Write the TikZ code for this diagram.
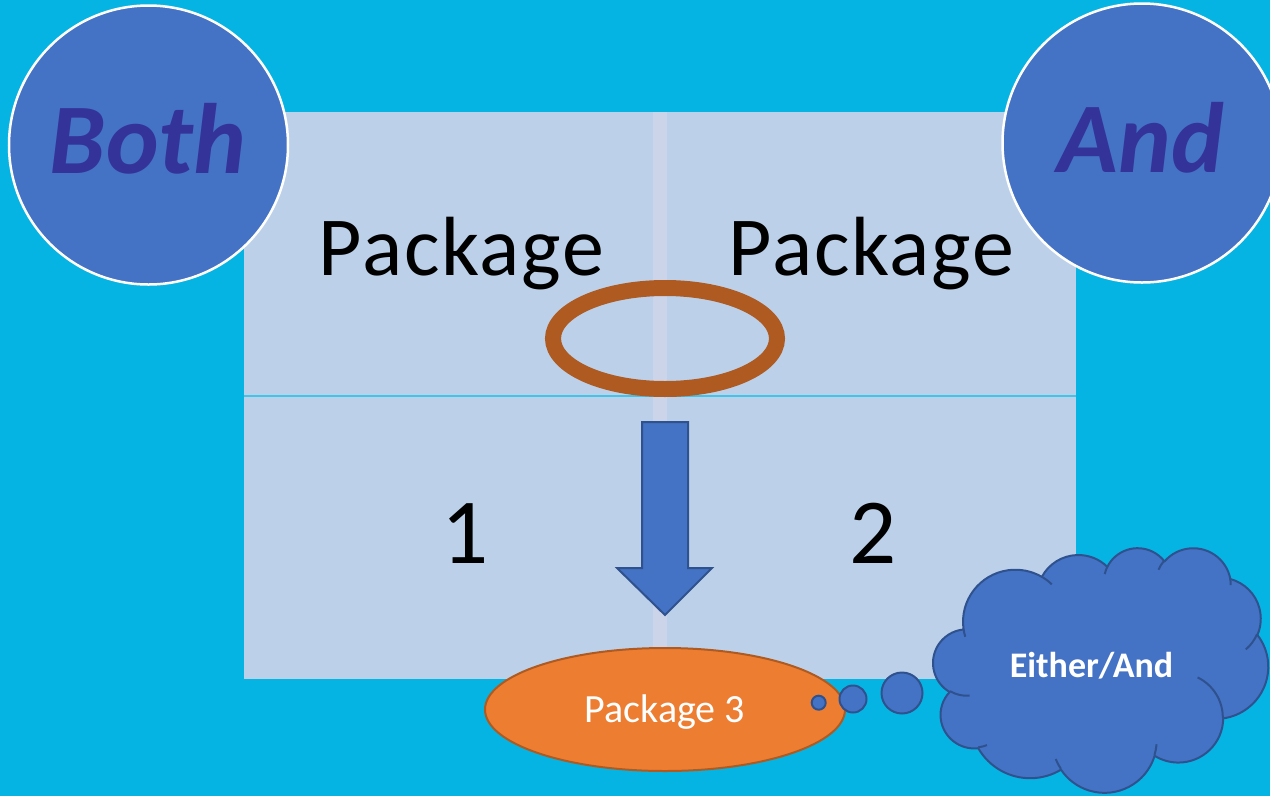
\documentclass[tikz,border=0pt]{standalone}
\usepackage{fontspec}
\setmainfont{Carlito}
\usetikzlibrary{shapes.geometric}

\definecolor{bgcyan}{RGB}{5,180,226}
\definecolor{panelblue}{RGB}{188,209,233}
\definecolor{stripe}{RGB}{204,212,234}
\definecolor{sepcyan}{RGB}{64,196,232}
\definecolor{accentblue}{RGB}{68,114,196}
\definecolor{edgeblue}{RGB}{47,82,143}
\definecolor{navy}{RGB}{51,51,153}
\definecolor{ringbrown}{RGB}{174,90,33}
\definecolor{pkgorange}{RGB}{237,125,49}

% scale of the cloud outline (path space 43200 x 43200)
\def\csx{0.007744}
\def\csy{0.005668}
% #1 name, #2 x radius, #3 y radius, #4 start angle, #5 sweep (visual angles, y down)
\newcommand\puffarc[5]{%
  \pgfmathsetmacro\pa{-atan2(#2*sin(#4),#3*cos(#4))}%
  \pgfmathsetmacro\pb{-atan2(#2*sin(#4+#5),#3*cos(#4+#5))}%
  \pgfmathsetmacro\pd{-mod(\pa-\pb+720,360)}%
  \pgfmathsetmacro\prx{#2*\csx}%
  \pgfmathsetmacro\pry{#3*\csy}%
  \expandafter\xdef\csname puff#1\endcsname{arc[x radius=\prx pt,y radius=\pry pt,start angle=\pa,delta angle=\pd]}%
}

\tikzset{
  badge/.style={circle,fill=accentblue,draw=white,line width=2.5pt,inner sep=0pt},
  badgetext/.style={anchor=base,text=navy,font=\fontsize{100}{110}\selectfont\bfseries\itshape},
  pkgtext/.style={anchor=base,text=black,font=\fontsize{84}{96}\selectfont\addfontfeature{LetterSpace=2}},
  digit/.style={anchor=base,text=black,font=\fontsize{93}{100}\selectfont},
  thought/.style={circle,fill=accentblue,draw=edgeblue,line width=2pt,inner sep=0pt},
  cloudbody/.style={fill=accentblue,draw=edgeblue,line width=2pt,line join=round},
  crease/.style={draw=edgeblue,line width=2pt},
}

\begin{document}
\begin{tikzpicture}[x=1pt,y=-1pt]
\useasboundingbox (0,0) rectangle (1270,796);
\fill[bgcyan] (0,0) rectangle (1270,796);

% central panel with its stripe and divider
\node[fill=panelblue,minimum width=832pt,minimum height=567pt,inner sep=0pt] (panel) at (660,395.5) {};
\fill[stripe] (653,112) rectangle (667,679);
\coordinate (divl) at (244,396);
\coordinate (divr) at (1076,396);
\draw[sepcyan,line width=1.5pt] (divl) -- (divr);

% corner badges
\node[badge,minimum size=279pt] (both) at (148.5,145) {};
\node[badgetext] (bothtxt) at (148,173) {Both};
\node[badge,minimum size=279pt] (and) at (1142,143) {};
\node[badgetext] (andtxt) at (1141,172) {And};

% panel labels
\node[pkgtext] (pkgl) at (461.5,275) {Package};
\node[pkgtext] (pkgr) at (871.5,275) {Package};
\node[digit] (one) at (465,563) {1};
\node[digit] (two) at (873,563) {2};

% ring over the stripe
\node[ellipse,draw=ringbrown,line width=16pt,minimum width=224pt,minimum height=101pt,inner sep=0pt] (ring) at (665,338.5) {};

% block arrow pointing down
\draw[fill=accentblue,draw=edgeblue,line width=2pt,line join=miter]
  (642,422) -- (688,422) -- (688,568) -- (712,568) -- (665,615) -- (617,568) -- (642,568) -- cycle;

% package 3
\node[ellipse,fill=pkgorange,draw=ringbrown,line width=2pt,minimum width=360pt,minimum height=123pt,inner sep=0pt] (pkg3) at (665,709.5) {};
\node[anchor=base,text=white,font=\fontsize{40}{48}\selectfont] (pkg3txt) at (665,722.7) {Package 3};

% thought bubbles
\node[thought,minimum size=14pt] (dot1) at (818.7,702.7) {};
\node[thought,minimum size=27pt] (dot2) at (853,699) {};
\node[thought,minimum size=41pt] (dot3) at (902,693) {};

% cloud outline
\puffarc{A}{6753}{9190}{-190.48748}{123.78053}
\puffarc{B}{5333}{7267}{-144.10238}{89.94523}
\puffarc{C}{4365}{5945}{-145.80792}{99.72302}
\puffarc{D}{4857}{6595}{-130.98607}{117.24173}
\puffarc{E}{5333}{7273}{-78.70888}{109.02692}
\puffarc{F}{6775}{9220}{-46.26725}{130.269}
\puffarc{G}{5785}{7867}{0.62502}{114.03333}
\puffarc{H}{6752}{9215}{22.4516}{115.17255}
\puffarc{I}{7720}{10543}{66.24263}{75.71102}
\puffarc{J}{4360}{5918}{-274.94208}{146.73557}
\puffarc{K}{4345}{5945}{-246.8285}{152.51885}
% cloud creases
\puffarc{a}{4345}{5945}{86.742}{26.4295}
\puffarc{b}{4360}{5918}{73.6105}{11.4475}
\puffarc{c}{6752}{9215}{137.6242}{14.0811}
\puffarc{d}{6752}{9215}{6.4533}{15.9984}
\puffarc{e}{5785}{7867}{-70.2924}{70.9174}
\puffarc{f}{5333}{7273}{30.318}{27.7515}
\puffarc{g}{4857}{6595}{-13.7443}{14.8589}
\puffarc{h}{4857}{6595}{-149.1815}{18.1954}
\puffarc{i}{4365}{5945}{-163.4943}{17.6942}
\puffarc{j}{6753}{9190}{-66.707}{12.3194}
\puffarc{k}{6753}{9190}{157.6544}{11.8582}

\coordinate (cloudstart) at ({933.3+3.9*7.744},{547.3+14.37*5.668});
\path[cloudbody] (cloudstart) \puffA \puffB \puffC \puffD \puffE \puffF \puffG \puffH \puffI \puffJ \puffK -- cycle;
\path[crease]
  ({933.3+4.693*7.744},{547.3+26.177*5.668}) \puffa
  ({933.3+6.928*7.744},{547.3+34.899*5.668}) \puffb
  ({933.3+16.478*7.744},{547.3+39.09*5.668}) \puffc
  ({933.3+28.827*7.744},{547.3+34.751*5.668}) \puffd
  ({933.3+34.129*7.744},{547.3+22.954*5.668}) \puffe
  ({933.3+41.798*7.744},{547.3+15.354*5.668}) \pufff
  ({933.3+38.324*7.744},{547.3+5.426*5.668}) \puffg
  ({933.3+29.078*7.744},{547.3+3.952*5.668}) \puffh
  ({933.3+22.141*7.744},{547.3+4.72*5.668}) \puffi
  ({933.3+14.0*7.744},{547.3+5.192*5.668}) \puffj
  ({933.3+4.127*7.744},{547.3+15.789*5.668}) \puffk;
\node[anchor=base,text=white,font=\fontsize{36}{44}\selectfont\bfseries] (cloudtxt) at (1091.5,677) {Either/And};
\end{tikzpicture}
\end{document}
